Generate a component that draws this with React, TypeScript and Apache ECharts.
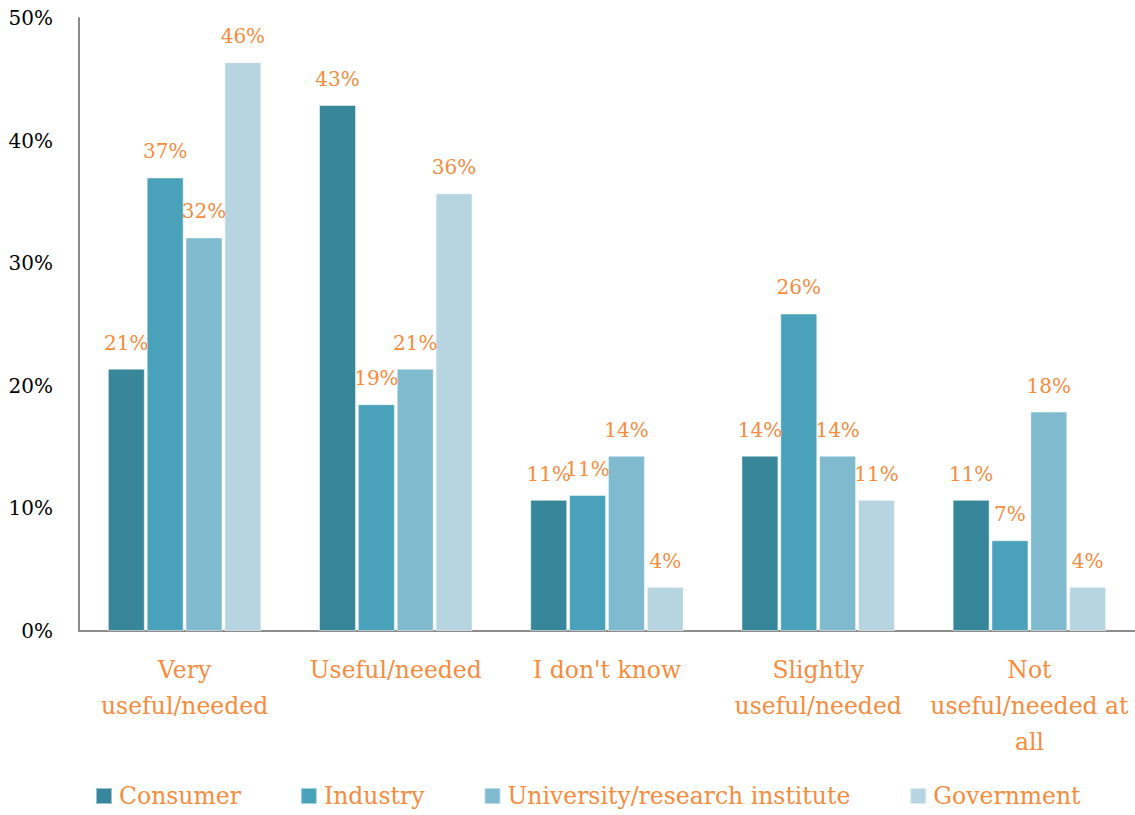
import React, { useEffect, useRef } from "react";
import * as echarts from "echarts";

const categories = [
  "Very\nuseful/needed",
  "Useful/needed",
  "I don't know",
  "Slightly\nuseful/needed",
  "Not\nuseful/needed at\nall",
];
const seriesNames = ["Consumer", "Industry", "University/research institute", "Government"];
const consumer = [21.4, 42.9, 10.7, 14.3, 10.7];
const industry = [37.0, 18.5, 11.1, 25.9, 7.4];
const university = [32.1, 21.4, 14.3, 14.3, 17.9];
const government = [46.4, 35.7, 3.6, 10.7, 3.6];
const colors = ["#38869A", "#49A2BA", "#7FBACF", "#B7D5E0"];
const yTicks = [0, 10, 20, 30, 40, 50];

const FONT = "DejaVu Serif";
const ORANGE = "#F58C3E";

export default function App() {
  const ref = useRef<HTMLDivElement>(null);
  useEffect(() => {
    if (!ref.current) return;
    const chart = echarts.init(ref.current, undefined, { renderer: "svg" });
    const data = [consumer, industry, university, government];
    chart.setOption({
      animation: false,
      color: colors,
      grid: { left: 79, right: 0, top: 18, bottom: 184, containLabel: false },
      legend: {
        bottom: 2,
        left: 90,
        itemWidth: 16,
        itemHeight: 16,
        itemGap: 59,
        icon: "rect",
        textStyle: { color: ORANGE, fontFamily: FONT, fontSize: 23.5, padding: [0, 0, 0, 2] },
        data: seriesNames,
      },
      xAxis: {
        type: "category",
        data: categories,
        axisLine: { lineStyle: { color: "#8c8c8c", width: 2 } },
        axisTick: { show: false },
        axisLabel: {
          color: ORANGE,
          fontFamily: FONT,
          fontSize: 23.5,
          lineHeight: 36,
          margin: 21,
          interval: 0,
        },
      },
      yAxis: {
        type: "value",
        min: yTicks[0],
        max: yTicks[yTicks.length - 1],
        interval: 10,
        splitLine: { show: false },
        axisLine: { show: true, lineStyle: { color: "#8c8c8c", width: 2 } },
        axisTick: { show: false },
        axisLabel: {
          color: "#000",
          fontFamily: FONT,
          fontSize: 20,
          margin: 26,
          formatter: (v: number) => v + "%",
        },
      },
      series: seriesNames.map((name, i) => ({
        name,
        type: "bar",
        data: data[i],
        barWidth: 37,
        barGap: "5%",
        itemStyle: { borderColor: "rgba(255,255,255,0.5)", borderWidth: 1 },
        label: {
          show: true,
          position: "top",
          distance: 16,
          color: ORANGE,
          fontFamily: FONT,
          fontSize: 20,
          formatter: (p: any) => Math.round(p.value) + "%",
        },
      })),
    });
    return () => chart.dispose();
  }, []);
  return (
    <div
      ref={ref}
      style={{ position: "fixed", left: 0, top: 0, width: 1135, height: 815, background: "#fff" }}
    />
  );
}
